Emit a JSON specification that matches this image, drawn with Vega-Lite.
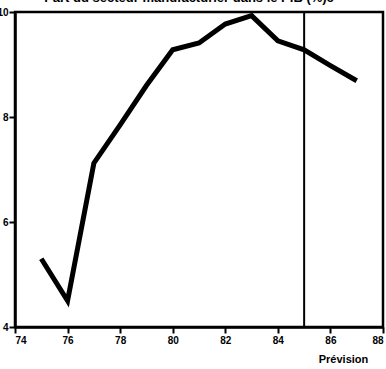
{
  "$schema": "https://vega.github.io/schema/vega-lite/v6.json",
  "width": 368,
  "height": 315,
  "autosize": "none",
  "padding": {"left": 15, "top": 12, "right": 3, "bottom": 42},
  "background": "white",
  "title": {
    "text": "Part du secteur manufacturier dans le PIB (%)c",
    "font": "Liberation Sans",
    "fontSize": 13,
    "fontWeight": "bold",
    "color": "black",
    "anchor": "middle",
    "offset": -9,
    "baseline": "alphabetic",
    "dx": -10
  },
  "config": {
    "view": {"stroke": "black", "strokeWidth": 2.5},
    "axis": {
      "domainColor": "black",
      "domainWidth": 2.5,
      "tickColor": "black",
      "tickWidth": 2,
      "tickSize": 6,
      "labelFont": "Liberation Sans",
      "labelFontWeight": "bold",
      "labelFontSize": 10,
      "labelColor": "black",
      "grid": false
    }
  },
  "data": {
    "values": [
      {"annee": 75, "part": 5.3},
      {"annee": 76, "part": 4.5},
      {"annee": 77, "part": 7.12},
      {"annee": 78, "part": 7.85},
      {"annee": 79, "part": 8.6},
      {"annee": 80, "part": 9.28},
      {"annee": 81, "part": 9.41},
      {"annee": 82, "part": 9.77},
      {"annee": 83, "part": 9.93},
      {"annee": 84, "part": 9.45},
      {"annee": 85, "part": 9.28},
      {"annee": 86, "part": 8.98},
      {"annee": 87, "part": 8.69}
    ]
  },
  "layer": [
    {
      "mark": {"type": "line", "color": "black", "strokeWidth": 5, "strokeJoin": "miter"},
      "encoding": {
        "x": {
          "field": "annee",
          "type": "quantitative",
          "scale": {"domain": [74, 88], "nice": false, "zero": false},
          "axis": {
            "values": [74, 76, 78, 80, 82, 84, 86, 88],
            "labelPadding": 2,
            "title": "Prévision",
            "titleFont": "Liberation Sans",
            "titleFontWeight": "bold",
            "titleFontSize": 11,
            "titleColor": "black",
            "titleX": 328,
            "titleY": 35,
            "titleAlign": "center",
            "titleBaseline": "alphabetic"
          }
        },
        "y": {
          "field": "part",
          "type": "quantitative",
          "scale": {"domain": [4, 10], "nice": false, "zero": false},
          "axis": {"values": [4, 6, 8, 10], "labelPadding": 1, "title": null}
        }
      }
    },
    {
      "data": {"values": [{"annee": 85}]},
      "mark": {"type": "rule", "color": "black", "strokeWidth": 2},
      "encoding": {
        "x": {"field": "annee", "type": "quantitative"}
      }
    }
  ]
}
